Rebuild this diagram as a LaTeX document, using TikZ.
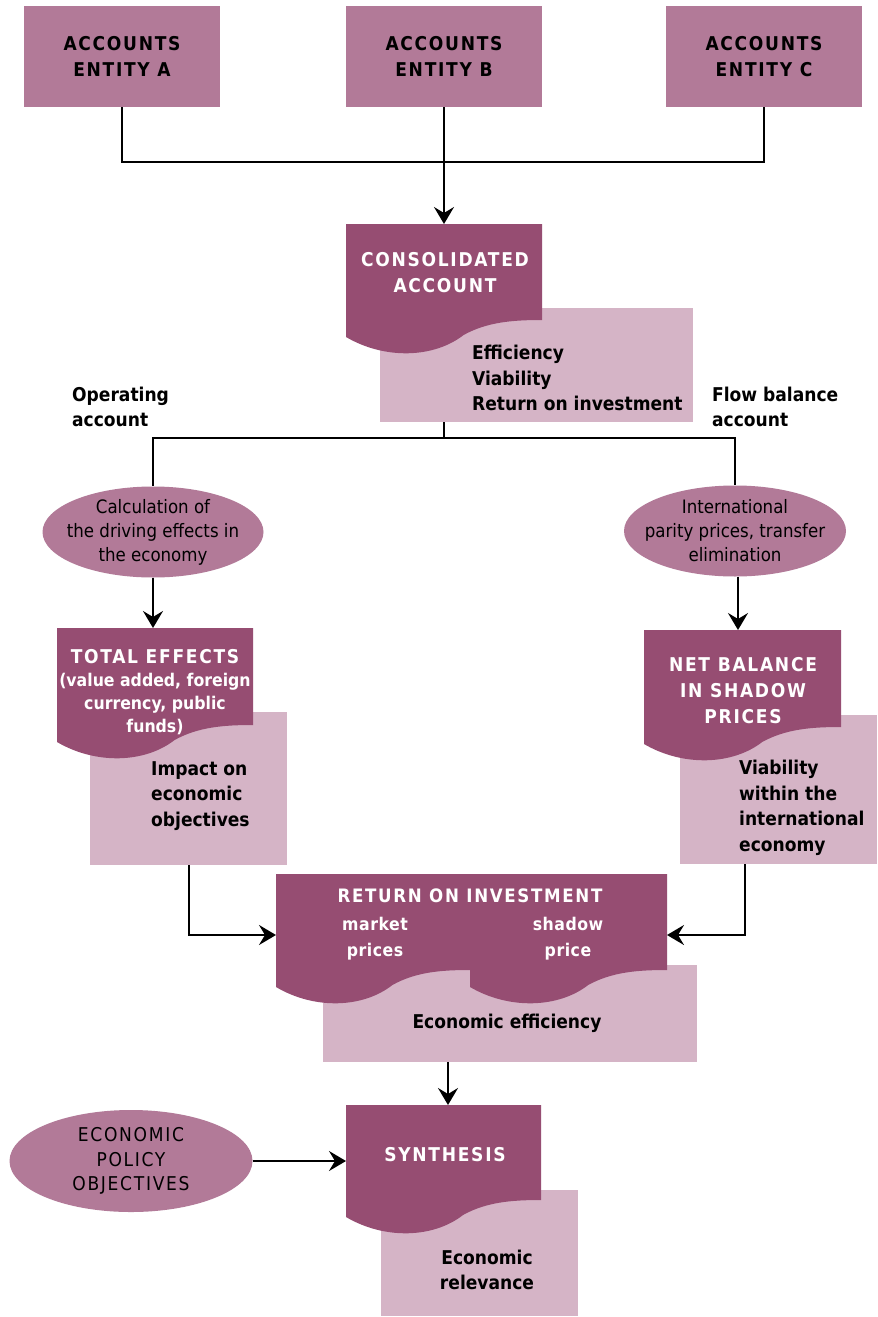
\documentclass[tikz,border=0pt]{standalone}
\usepackage{fontspec}
\setmainfont{DejaVu Sans Condensed}
\newfontfamily\spaced[LetterSpace=9]{DejaVu Sans Condensed}
\newfontfamily\spacedlt[LetterSpace=3]{DejaVu Sans Condensed}
\usetikzlibrary{arrows.meta,shapes.geometric}
\definecolor{dark}{RGB}{150,77,114}
\definecolor{mid}{RGB}{178,122,152}
\definecolor{light}{RGB}{213,180,198}
\newcommand\docshape[4]{\fill[dark] (#1,#2) -- (#3,#2) -- (#3,#4) .. controls ({#3-0.15*(#3-#1)},#4) and ({#3-0.28*(#3-#1)},{#4+2}) .. ({#1+0.6*(#3-#1)},{#4+15}) .. controls ({#1+0.45*(#3-#1)},{#4+38}) and ({#1+0.2*(#3-#1)},{#4+40}) .. (#1,{#4+17}) -- cycle;}
\tikzset{
  topbox/.style={fill=mid, minimum width=196pt, minimum height=101pt, inner sep=0pt, align=center, text=black, font=\spaced\bfseries\fontsize{19}{26}\selectfont},
  pinkbox/.style={fill=light, inner sep=0pt, anchor=north west},
  darktxt/.style={text=white, align=center, inner sep=0pt, font=\spaced\bfseries\fontsize{19}{26}\selectfont},
  blacktxt/.style={text=black, align=left, inner sep=0pt, font=\bfseries\fontsize{19}{25.5}\selectfont},
  elli/.style={ellipse, fill=mid, inner sep=0pt},
  ellitxt/.style={align=center, inner sep=0pt, font=\fontsize{18.5}{24}\selectfont},
  conn/.style={line width=2pt},
  arr/.style={conn, -{Stealth[length=17pt,width=20pt,inset=6pt]}}
}
\begin{document}
\begin{tikzpicture}[x=1pt,y=-1pt]
\fill[white] (0,0) rectangle (878,1317);
\useasboundingbox (0,0) rectangle (878,1317);
% top boxes
\node[topbox] (A) at (122,56.5) {ACCOUNTS\\ENTITY A};
\node[topbox] (B) at (444,56.5) {ACCOUNTS\\ENTITY B};
\node[topbox] (C) at (764,56.5) {ACCOUNTS\\ENTITY C};
% pink boxes
\node[pinkbox, minimum width=313pt, minimum height=114pt] (consP) at (380,308) {};
\node[pinkbox, minimum width=197pt, minimum height=153pt] (totP) at (90,712) {};
\node[pinkbox, minimum width=197pt, minimum height=149pt] (netP) at (680,715) {};
\node[pinkbox, minimum width=374pt, minimum height=97pt] (roiP) at (323,965) {};
\node[pinkbox, minimum width=197pt, minimum height=126pt] (synP) at (381,1190) {};
% dark document shapes
\docshape{346}{224}{542}{320}
\docshape{57}{628}{253}{725}
\docshape{644}{630}{841}{727}
\docshape{276}{874}{470}{970}
\docshape{470}{874}{667}{970}
\docshape{346}{1105}{541}{1200}
% coordinates
\coordinate (join) at (444,162);
\coordinate (consT) at (444,224);
\coordinate (split) at (444,438);
\coordinate (totT) at (153,628);
\coordinate (netT) at (738,630);
\coordinate (roiL) at (276,935);
\coordinate (roiR) at (667,935);
\coordinate (netB) at (745,864);
\coordinate (synT) at (448,1105);
\coordinate (synL) at (346,1164);
% dark texts
\node[darktxt] (consX) at (445,273) {CONSOLIDATED\\ACCOUNT};
\node[darktxt, font=\bfseries\fontsize{17.5}{23}\selectfont] (totX) at (155,692) {{\spaced\fontsize{19}{23}\selectfont TOTAL EFFECTS}\\(value added, foreign\\currency, public\\funds)};
\node[darktxt] (netX) at (743,691) {NET BALANCE\\IN SHADOW\\PRICES};
\node[darktxt, font=\spaced\bfseries\fontsize{18.5}{26}\selectfont] (roiX) at (470,896) {RETURN ON INVESTMENT};
\node[darktxt, font=\spacedlt\bfseries\fontsize{17.5}{26}\selectfont] (mktX) at (375,939) {market\\prices};
\node[darktxt, font=\spacedlt\bfseries\fontsize{17.5}{26}\selectfont] (shdX) at (568,939) {shadow\\price};
\node[darktxt] (synX) at (445,1155) {SYNTHESIS};
% pink texts
\node[blacktxt, anchor=west] (consY) at (472,378) {Efficiency\\Viability\\Return on investment};
\node[blacktxt, anchor=west] (totY) at (151,796) {Impact on\\economic\\objectives};
\node[blacktxt, anchor=west] (netY) at (739,808) {Viability\\within the\\international\\economy};
\node[blacktxt, align=center] (roiY) at (507,1023) {Economic efficiency};
\node[blacktxt, align=center] (synY) at (487,1270) {Economic\\relevance};
% labels
\node[blacktxt, anchor=west] (opL) at (72,407) {Operating\\account};
\node[blacktxt, anchor=west] (flL) at (712,407) {Flow balance\\account};
% ellipses
\node[elli, minimum width=221pt, minimum height=91pt] (e1) at (153,532) {};
\node[ellitxt] (e1t) at (e1.center) {Calculation of\\the driving effects in\\the economy};
\node[elli, minimum width=222pt, minimum height=91pt] (e2) at (735,531) {};
\node[ellitxt] (e2t) at (e2.center) {International\\parity prices, transfer\\elimination};
\node[elli, minimum width=243pt, minimum height=102pt] (pol) at (131,1161) {};
\node[ellitxt, font=\spaced\fontsize{19}{24.5}\selectfont] (polt) at (pol.center) {ECONOMIC\\POLICY\\OBJECTIVES};
% connectors
\draw[conn] (A.south) |- (join) -| (C.south);
\draw[arr] (B.south) -- (consT);
\draw[conn] (split |- consP.south) -- (split);
\draw[conn] (split) -| (e1.north);
\draw[conn] (split) -| (e2.north);
\draw[arr] (e1.south) -- (totT);
\draw[arr] (e2.south -| netT) -- (netT);
\draw[arr] (totP.south) |- (roiL);
\draw[arr] (netB) |- (roiR);
\draw[arr] (synT |- roiP.south) -- (synT);
\draw[arr] (pol.east) -- (pol.east -| synL);
\end{tikzpicture}
\end{document}
